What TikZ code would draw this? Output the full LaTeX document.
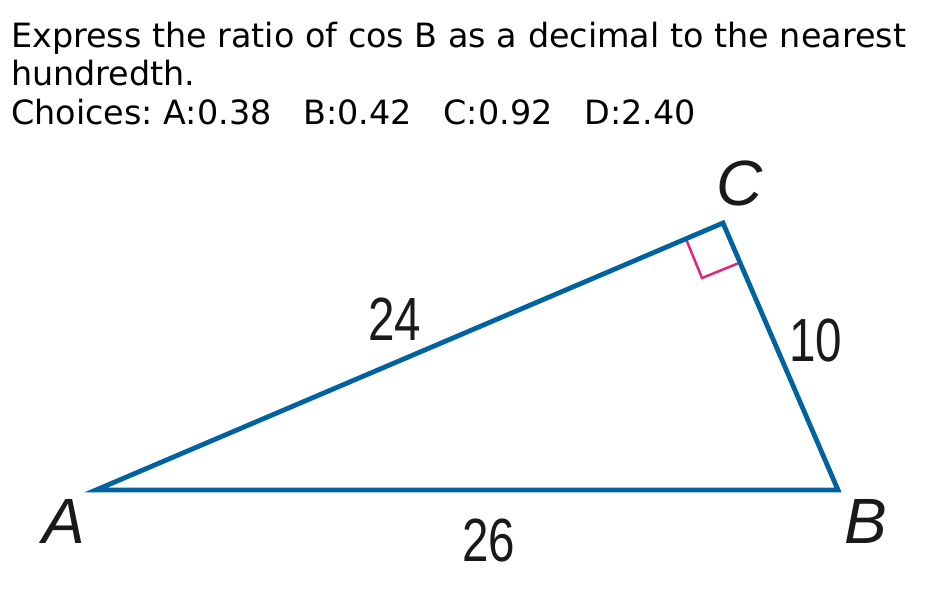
\documentclass[tikz,border=0pt]{standalone}
\usepackage{fontspec}
\setmainfont{DejaVu Sans}
\newfontfamily\labfont{Liberation Sans}
\definecolor{triblue}{HTML}{00629E}
\definecolor{angpink}{HTML}{E0287A}
\definecolor{labink}{HTML}{1A1A1A}
\frenchspacing
\begin{document}
\begin{tikzpicture}[x=1pt,y=-1pt,
  side/.style={draw=triblue,line width=4.8pt,line join=miter},
  vlabel/.style={text=labink,font=\labfont\itshape\fontsize{64}{64}\selectfont,inner sep=0pt},
  nlabel/.style={text=labink,font=\labfont\fontsize{61}{61}\selectfont,inner sep=0pt,xscale=0.78},
  qtext/.style={anchor=base west,inner sep=0pt,font=\fontsize{33.4}{33.4}\selectfont}]
\useasboundingbox (0,0) rectangle (946,608);
\fill[white] (0,0) rectangle (946,608);
\node[qtext] (q1) at (11,47) {Express the ratio of cos B as a decimal to the nearest};
\node[qtext] (q2) at (11,85) {hundredth.};
\node[qtext] (q3) at (11,124) {Choices: A:0.38~~~B:0.42~~~C:0.92~~~D:2.40};
\coordinate (A) at (96,490);
\coordinate (B) at (838,490);
\coordinate (C) at (723,223);
\coordinate (P1) at (686,239);
\coordinate (P2) at (702,278);
\coordinate (P3) at (739,263);
\draw[angpink,line width=2.5pt] (P1) -- (P2) -- (P3);
\draw[side] (A) -- (B) -- (C) -- cycle;
\node[vlabel] (lA) at (64,521) {A};
\node[vlabel] (lB) at (866,521) {B};
\node[vlabel] (lC) at (740,183) {C};
\node[nlabel] (l24) at (395,319) {24};
\node[nlabel] (l10) at (816,340) {10};
\node[nlabel] (l26) at (489,540) {26};
\end{tikzpicture}
\end{document}
